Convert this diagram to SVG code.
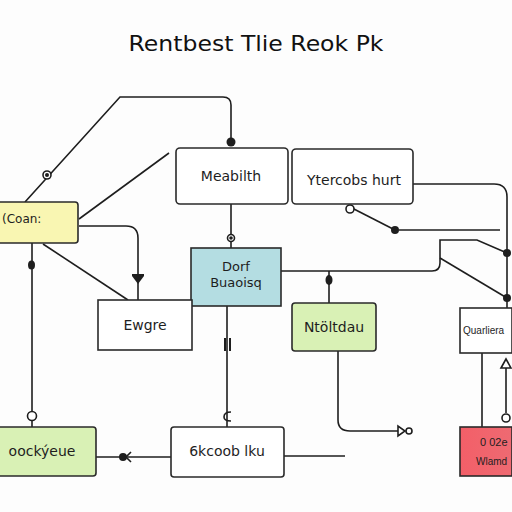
<svg xmlns="http://www.w3.org/2000/svg" width="512" height="512" viewBox="0 0 512 512">
<defs>
<linearGradient id="redg" x1="0" y1="0" x2="1" y2="0">
<stop offset="0" stop-color="#f35f68"/>
<stop offset="1" stop-color="#ee6a72"/>
</linearGradient>
</defs>
<style>
.box{stroke:#2a2a2a;stroke-width:1.6}
.t{font-family:"DejaVu Sans","Liberation Sans",sans-serif;font-size:14px;fill:#1e1e1e}
.n{font-family:"Liberation Sans","DejaVu Sans",sans-serif;fill:#1e1e1e}
.c{text-anchor:middle}
.ln{fill:none;stroke:#1e1e1e;stroke-width:1.6}
.dot{fill:#1e1e1e}
.ring{fill:#fff;stroke:#1e1e1e;stroke-width:1.6}
</style>
<rect width="512" height="512" fill="#fdfdfd"/>
<text x="256" y="51" class="t c" style="font-size:22px;fill:#111" textLength="255" lengthAdjust="spacingAndGlyphs">Rentbest Tlie Reok Pk</text>

<g id="connectors">
<path class="ln" d="M25,202 L120,97 L223,97 Q231,97 231,105 L231,141"/>
<circle class="dot" cx="231" cy="142" r="4.5"/>
<circle class="ring" cx="47" cy="175" r="4"/>
<circle class="dot" cx="47" cy="175" r="2"/>
<path class="ln" d="M79,219 L169,153"/>
<path class="ln" d="M79,226 L126,226 Q138,226 138,238 L138,300"/>
<path class="dot" d="M132,276 L144,276 L138,284 Z"/>
<rect class="dot" x="132" y="274" width="12" height="2"/>
<path class="ln" d="M43,244 L128,300"/>
<path class="ln" d="M32,243 L32,412"/>
<ellipse class="dot" cx="31.5" cy="265" rx="3.5" ry="4.5"/>
<circle class="ring" cx="32" cy="416" r="4.5"/>
<path class="ln" d="M32,420.5 L32,427"/>
<path class="ln" d="M231,204 L231,248"/>
<circle class="ring" cx="231" cy="238" r="3.5"/>
<circle class="dot" cx="231" cy="238" r="1.8"/>
<path class="ln" d="M227,306 L227,427"/>
<rect class="dot" x="224" y="338" width="2" height="13"/>
<rect class="dot" x="229" y="338" width="2" height="13"/>
<path class="ln" d="M231,412 Q224,412 224,417 Q224,421 231,421"/>
<path class="ln" d="M281,271 L432,271 Q440,271 440,263 L440,240 L477,240 L507,253"/>
<circle class="dot" cx="507" cy="253" r="4"/>
<path class="ln" d="M440,258 L507,298"/>
<circle class="dot" cx="507" cy="298" r="4"/>
<path class="ln" d="M329,271 L329,303"/>
<ellipse class="dot" cx="329" cy="280" rx="3.5" ry="5"/>
<path class="ln" d="M338,351 L338,420 Q338,431 350,431 L398,431"/>
<path class="ring" d="M398,426 L398,436 L405,431 Z"/>
<circle class="ring" cx="409" cy="431" r="3"/>
<path class="ln" d="M350,207 L395,230"/>
<circle class="ring" cx="350" cy="209" r="4"/>
<circle class="dot" cx="395" cy="230" r="4"/>
<path class="ln" d="M399,230 L500,230"/>
<path class="ln" d="M413,184 L494,184 Q507,184 507,197 L507,308"/>
<path class="ln" d="M482,353 L482,427"/>
<path class="ln" d="M506,367 L506,413"/>
<path class="ring" d="M501,368 L506,359 L511,368 Z"/>
<circle class="ring" cx="506" cy="418" r="4"/>
<path class="ln" d="M96,457 L171,457"/>
<circle class="dot" cx="123" cy="457" r="4"/>
<path class="ln" d="M131,452 L126,457 L131,462"/>
<path class="ln" d="M284,456 L345,456"/>
</g>

<g id="n-meabilth">
<rect class="box" x="176" y="148" width="112" height="56" rx="4" fill="#fff"/>
<text x="231" y="181" class="t c">Meabilth</text>
</g>
<g id="n-ytercobs">
<rect class="box" x="292" y="149" width="121" height="55" rx="4" fill="#fff"/>
<text x="354" y="185" class="t c">Ytercobs hurt</text>
</g>
<g id="n-coan">
<rect class="box" x="-4" y="202" width="82" height="41" rx="3" fill="#f9f6b2"/>
<text x="2" y="223" class="t" style="font-size:12px">(Coan:</text>
</g>
<g id="n-dorf">
<rect class="box" x="191" y="248" width="90" height="58" fill="#b4dde2"/>
<text x="236" y="271" class="t c" style="font-size:13px">Dorf</text>
<text x="236" y="287" class="t c" style="font-size:13px">Buaoisq</text>
</g>
<g id="n-ewgre">
<rect class="box" x="98" y="300" width="94" height="50" fill="#fff"/>
<text x="145" y="330" class="t c">Ewgre</text>
</g>
<g id="n-ntoltdau">
<rect class="box" x="292" y="303" width="84" height="48" rx="3" fill="#d9f1b5"/>
<text x="334" y="332" class="t c">Ntöltdau</text>
</g>
<g id="n-quarliera">
<rect class="box" x="460" y="308" width="52" height="45" fill="#fff"/>
<text x="463" y="334" class="n" style="font-size:10px">Quarliera</text>
</g>
<g id="n-red">
<rect class="box" x="460" y="427" width="52" height="49" fill="url(#redg)"/>
<text x="480" y="446" class="n" style="font-size:11px">0 02e</text>
<text x="476" y="465" class="n" style="font-size:10px">Wlamd</text>
</g>
<g id="n-oockyeue">
<rect class="box" x="-4" y="427" width="100" height="49" rx="3" fill="#d9f1b5"/>
<text x="42" y="456" class="t c">oockýeue</text>
</g>
<g id="n-6kcoob">
<rect class="box" x="171" y="427" width="113" height="50" rx="3" fill="#fff"/>
<text x="227" y="456" class="t c">6kcoob lku</text>
</g>
</svg>
